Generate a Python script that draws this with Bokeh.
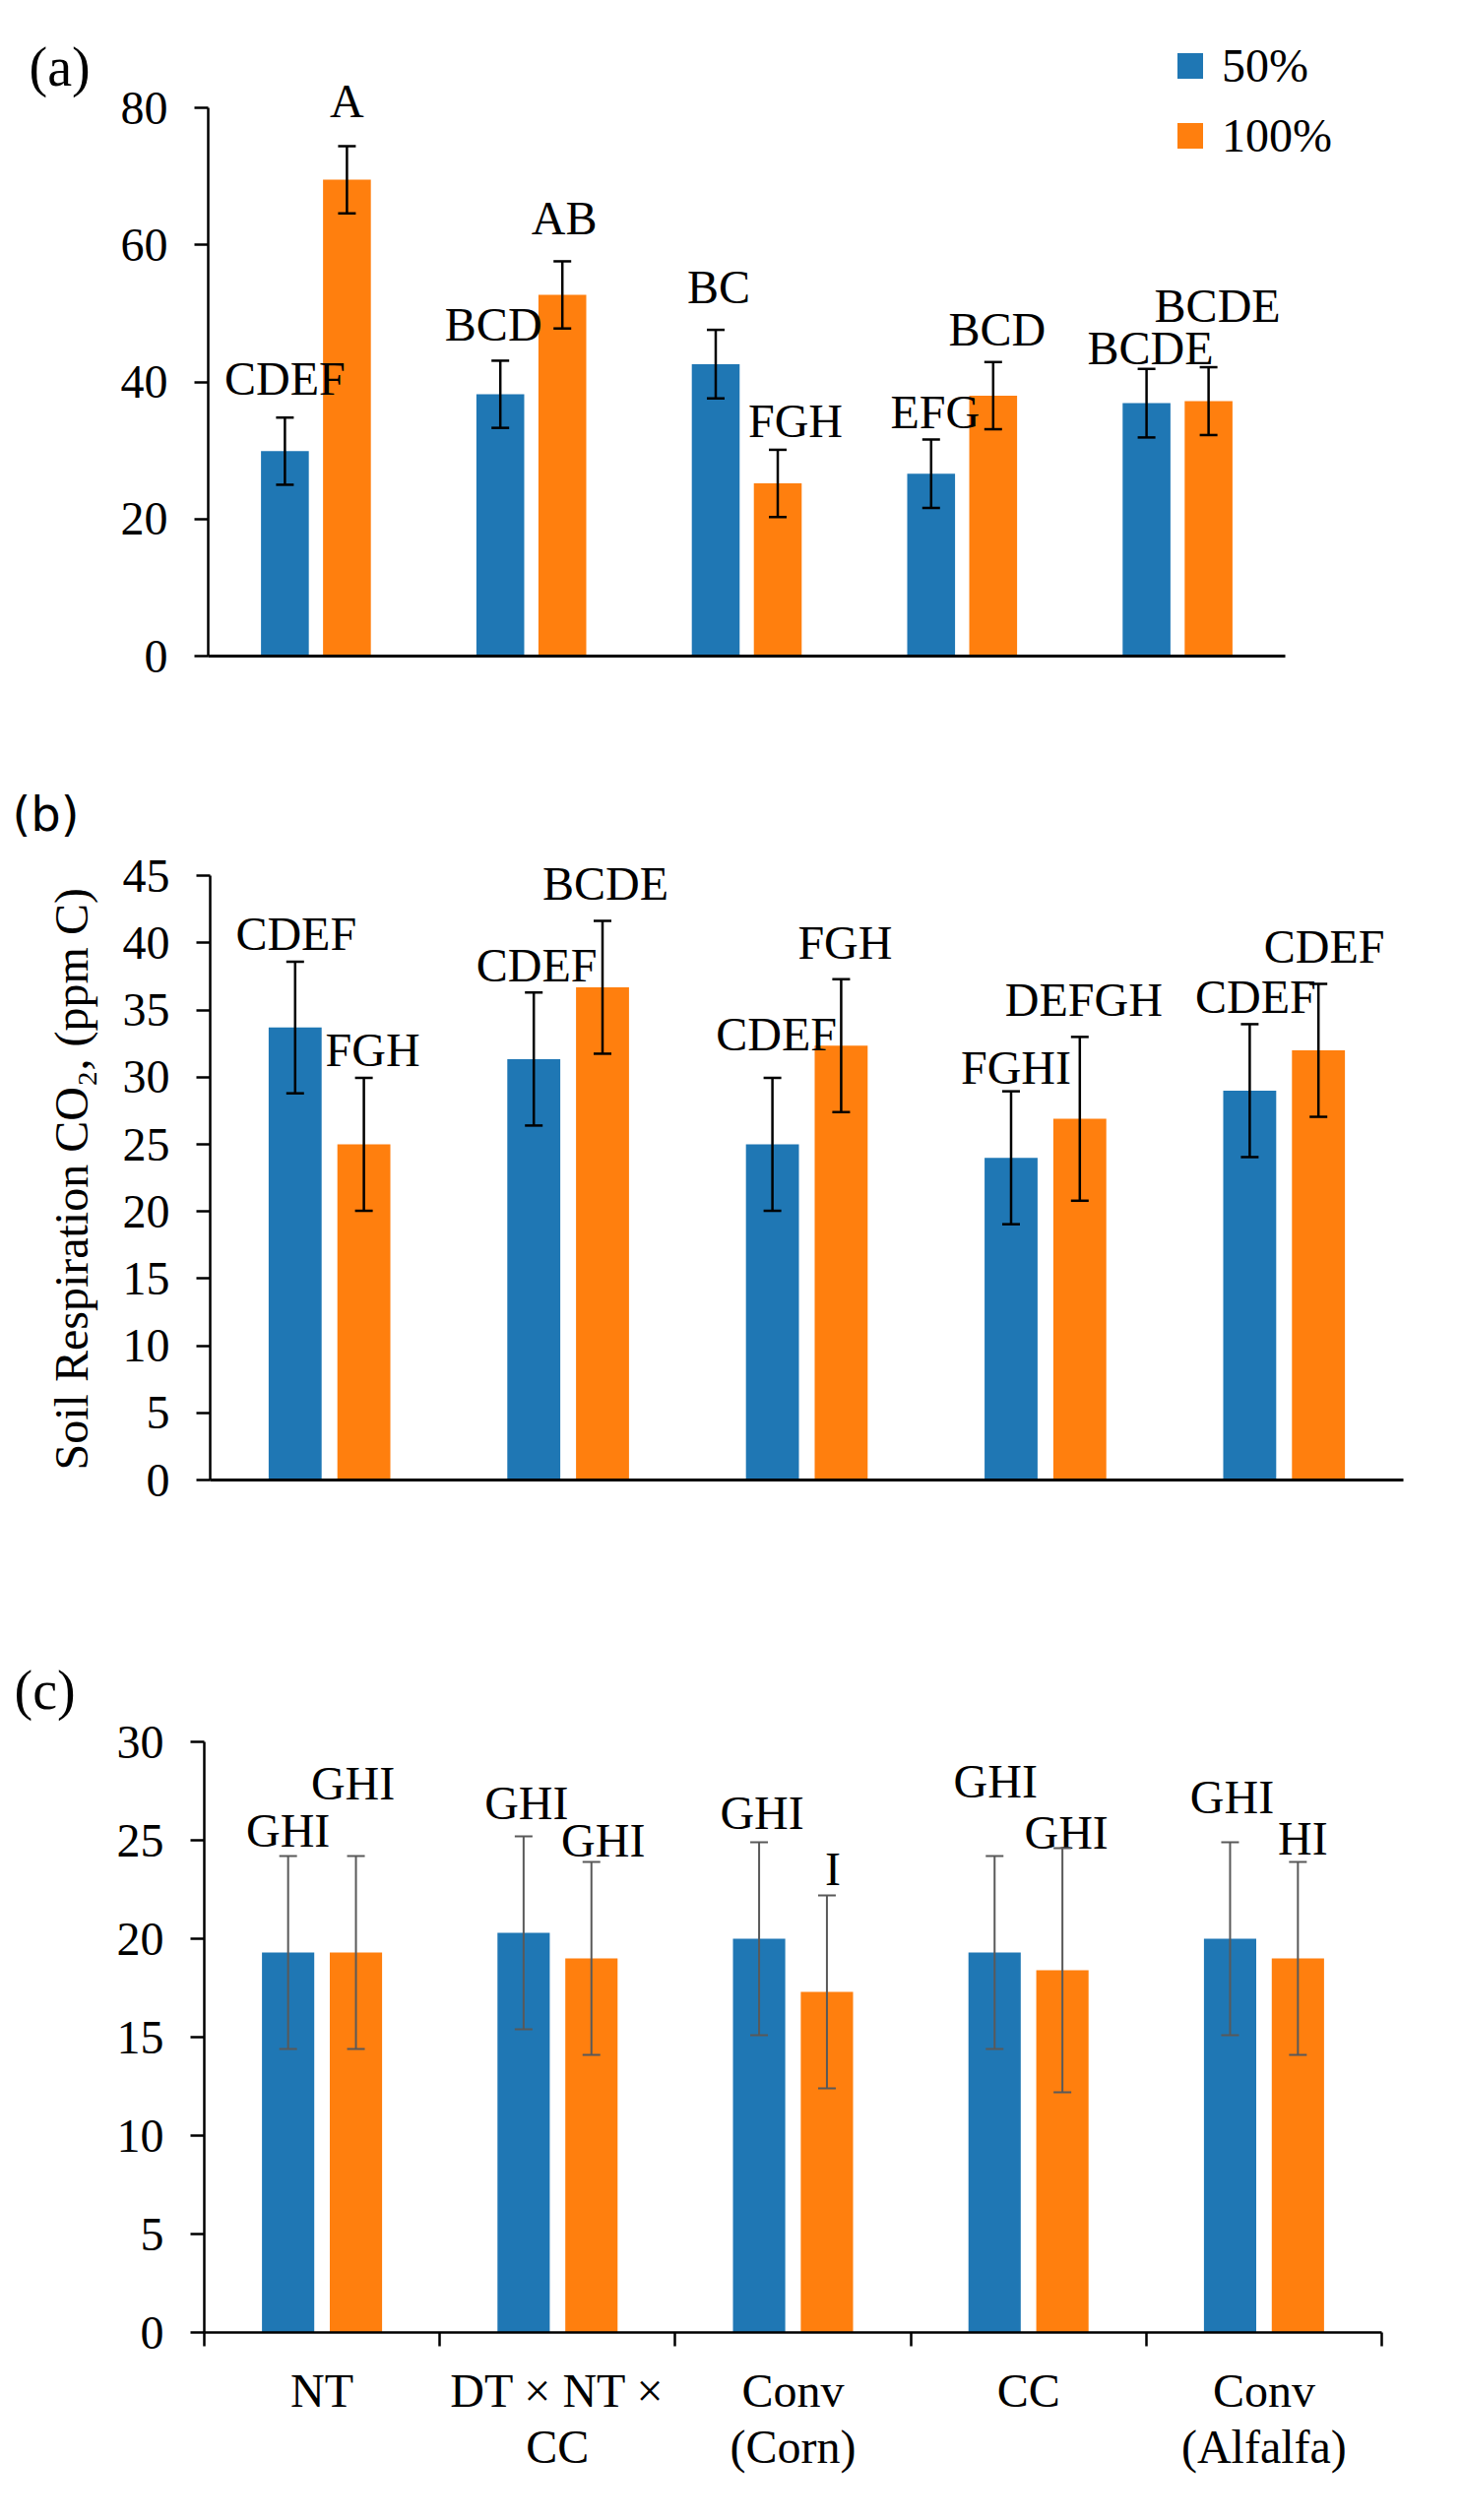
import math
from bokeh.plotting import figure
from bokeh.models import (Range1d, FixedTicker, ColumnDataSource, Whisker, TeeHead,
                          LabelSet, Label, Legend, LegendItem)
from bokeh.layouts import column, row
from bokeh.embed import file_html
from bokeh.resources import INLINE
from bokeh.core.properties import value

# ---------------- data ----------------
categories = ["NT", "DT × NT ×\nCC", "Conv\n(Corn)", "CC", "Conv\n(Alfalfa)"]
series = ["50%", "100%"]

# panel (a)
a_50 = [29.9, 38.2, 42.6, 26.6, 36.9]
a_50_err = [4.9, 4.9, 5.0, 5.0, 5.0]
a_100 = [69.5, 52.7, 25.2, 38.0, 37.2]
a_100_err = [4.9, 4.9, 4.9, 4.9, 4.95]
a_50_letters = ["CDEF", "BCD", "BC", "EFG", "BCDE"]
a_100_letters = ["A", "AB", "FGH", "BCD", "BCDE"]
a_50_letter_y = [38.1, 46.0, 51.5, 33.3, 42.6]
a_100_letter_y = [78.6, 61.5, 31.9, 45.3, 48.7]
a_50_letter_dx = [0, -7, 3, 4, 4]
a_100_letter_dx = [0, 2, 18, 4, 9]
a_ticks = [0, 20, 40, 60, 80]

# panel (b)
b_50 = [33.7, 31.35, 25.0, 24.0, 29.0]
b_50_err = [4.9, 4.95, 4.95, 4.95, 4.95]
b_100 = [25.0, 36.7, 32.35, 26.9, 32.0]
b_100_err = [4.95, 4.95, 4.95, 6.1, 4.95]
b_50_letters = ["CDEF", "CDEF", "CDEF", "FGHI", "CDEF"]
b_100_letters = ["FGH", "BCDE", "FGH", "DEFGH", "CDEF"]
b_50_letter_y = [39.5, 37.1, 32.0, 29.5, 34.8]
b_100_letter_y = [30.8, 43.2, 38.8, 34.6, 38.5]
b_50_letter_dx = [1, 3, 4, 5, 6]
b_100_letter_dx = [9, 3, 4, 4, 6]
b_ticks = [0, 5, 10, 15, 20, 25, 30, 35, 40, 45]

# panel (c)
c_50 = [19.3, 20.3, 20.0, 19.3, 20.0]
c_50_err = [4.9, 4.9, 4.9, 4.9, 4.9]
c_100 = [19.3, 19.0, 17.3, 18.4, 19.0]
c_100_err = [4.9, 4.9, 4.9, 6.2, 4.9]
c_50_letters = ["GHI", "GHI", "GHI", "GHI", "GHI"]
c_100_letters = ["GHI", "GHI", "I", "GHI", "HI"]
c_50_letter_y = [24.7, 26.1, 25.6, 27.2, 26.4]
c_100_letter_y = [27.1, 24.2, 22.75, 24.6, 24.3]
c_50_letter_dx = [0, 3, 3, 1, 2]
c_100_letter_dx = [-3, 12, 6, 4, 5]
c_ticks = [0, 5, 10, 15, 20, 25, 30]

ylabel = "Soil Respiration CO\u2082, (ppm C)"
panel_tags = ["(a)", "(b)", "(c)"]

# ---------------- style / layout ----------------
BLUE = "#1f77b4"
ORANGE = "#ff7f0e"
SERIF = "Liberation Serif"
FS = "48px"
NW = 108          # width of the left strip holding panel tags / y title
MW = 1376         # width of each chart figure
OFF = 0.144
BW = 0.222
NCAT = len(categories)
NAN = float("nan")


def side_strip(height, top_page):
    f = figure(width=NW, height=height, output_backend="svg", toolbar_location=None,
               x_range=Range1d(0, NW), y_range=Range1d(top_page + height, top_page),
               x_axis_type=None, y_axis_type=None, min_border=0)
    f.outline_line_color = None
    f.background_fill_color = "white"
    f.border_fill_color = "white"
    return f


def make_panel(height, left_border, bottom_border, px_x, px_y, ymax, yticks,
               v50, e50, v100, e100, l50, ly50, dx50, l100, ly100, dx100,
               err_color, err_w):
    x_end = (MW - left_border) / px_x
    y_end = (height - bottom_border) / px_y
    p = figure(width=MW, height=height, output_backend="svg", toolbar_location=None,
               x_range=Range1d(0, x_end), y_range=Range1d(0, y_end),
               min_border_left=left_border, min_border_right=0, min_border_top=0,
               min_border_bottom=bottom_border)
    p.outline_line_color = None
    p.xgrid.visible = False
    p.ygrid.visible = False
    p.background_fill_color = "white"
    p.border_fill_color = "white"

    x50 = [i + 0.5 - OFF for i in range(NCAT)]
    x100 = [i + 0.5 + OFF for i in range(NCAT)]
    s50 = ColumnDataSource(dict(x=x50, top=v50, up=[v + e for v, e in zip(v50, e50)],
                                lo=[v - e for v, e in zip(v50, e50)],
                                t=l50, ly=ly50, dx=dx50))
    s100 = ColumnDataSource(dict(x=x100, top=v100, up=[v + e for v, e in zip(v100, e100)],
                                 lo=[v - e for v, e in zip(v100, e100)],
                                 t=l100, ly=ly100, dx=dx100))
    p.vbar(x="x", top="top", width=BW, bottom=0, source=s50,
           fill_color=BLUE, line_color=None)
    p.vbar(x="x", top="top", width=BW, bottom=0, source=s100,
           fill_color=ORANGE, line_color=None)
    for s in (s50, s100):
        w = Whisker(base="x", upper="up", lower="lo", source=s, level="overlay",
                    line_color=err_color, line_width=err_w,
                    upper_head=TeeHead(size=18, line_color=err_color, line_width=err_w),
                    lower_head=TeeHead(size=18, line_color=err_color, line_width=err_w))
        p.add_layout(w)
        ls = LabelSet(x="x", y="ly", text="t", x_offset="dx", source=s,
                      text_font=value(SERIF), text_font_size=value(FS),
                      text_color="black", text_align="center",
                      text_baseline="alphabetic")
        p.add_layout(ls)

    ya = p.yaxis[0]
    ya.bounds = (0, ymax)
    ya.ticker = FixedTicker(ticks=yticks, minor_ticks=[])
    ya.axis_line_width = 2.5
    ya.axis_line_color = "black"
    ya.major_tick_out = 14
    ya.major_tick_in = 0
    ya.major_tick_line_width = 2.5
    ya.major_tick_line_color = "black"
    ya.minor_tick_out = 0
    ya.minor_tick_in = 0
    ya.major_label_text_font = SERIF
    ya.major_label_text_font_size = FS
    ya.major_label_text_color = "black"
    ya.major_label_standoff = 27

    xa = p.xaxis[0]
    xa.bounds = (0, NCAT)
    xa.axis_line_width = 3
    xa.axis_line_color = "black"
    return p


# ---------- panel (a) ----------
sa = side_strip(800, 0)
sa.add_layout(Label(x=29, y=81, text=panel_tags[0], text_font=SERIF,
                    text_font_size="56px", text_color="black",
                    text_baseline="alphabetic", text_align="left"))
pa = make_panel(800, 103, 134, 218.8, 6.9625, 80, a_ticks, a_50, a_50_err,
                a_100, a_100_err, a_50_letters, a_50_letter_y, a_50_letter_dx,
                a_100_letters, a_100_letter_y, a_100_letter_dx, "black", 2.5)
pa.xaxis[0].ticker = FixedTicker(ticks=[], minor_ticks=[])
pa.xaxis[0].major_label_text_font_size = "0px"
# legend proxies (NaN data: nothing drawn in the plot, only the legend swatch)
lg1 = pa.scatter(x=[NAN], y=[NAN], marker="square", size=26, fill_color=BLUE, line_color=None)
lg2 = pa.scatter(x=[NAN], y=[NAN], marker="square", size=26, fill_color=ORANGE, line_color=None)
legend = Legend(items=[LegendItem(label=series[0], renderers=[lg1]),
                       LegendItem(label=series[1], renderers=[lg2])],
                location=(965, 496), orientation="vertical",
                glyph_width=65, glyph_height=65, label_standoff=-10,
                spacing=6, padding=0, margin=0,
                border_line_color=None, background_fill_alpha=0,
                label_text_font=SERIF, label_text_font_size=FS,
                label_text_color="black")
pa.add_layout(legend)

# ---------- panel (b) ----------
sb = side_strip(860, 800)
sb.add_layout(Label(x=12, y=832, text=panel_tags[1], text_font="DejaVu Sans",
                    text_font_size="48px", text_color="black",
                    text_baseline="alphabetic", text_align="left"))
sb.add_layout(Label(x=72, y=1286, text=ylabel, angle=math.pi / 2, text_font=SERIF,
                    text_font_size=FS, text_color="black",
                    text_baseline="alphabetic", text_align="center"))
pb = make_panel(860, 105, 157, 242.4, 13.64, 45, b_ticks, b_50, b_50_err,
                b_100, b_100_err, b_50_letters, b_50_letter_y, b_50_letter_dx,
                b_100_letters, b_100_letter_y, b_100_letter_dx, "black", 2.5)
pb.xaxis[0].ticker = FixedTicker(ticks=[], minor_ticks=[])
pb.xaxis[0].major_label_text_font_size = "0px"

# ---------- panel (c) ----------
sc = side_strip(900, 1660)
sc.add_layout(Label(x=14, y=1732, text=panel_tags[2], text_font=SERIF,
                    text_font_size="56px", text_color="black",
                    text_baseline="alphabetic", text_align="left"))
pc = make_panel(900, 99, 191, 239.2, 20.0, 30, c_ticks, c_50, c_50_err,
                c_100, c_100_err, c_50_letters, c_50_letter_y, c_50_letter_dx,
                c_100_letters, c_100_letter_y, c_100_letter_dx, "#595959", 2)
centers = [i + 0.5 for i in range(NCAT)]
bounds = list(range(NCAT + 1))
xc = pc.xaxis[0]
xc.ticker = FixedTicker(ticks=centers, minor_ticks=bounds)
xc.major_label_overrides = {c: lab for c, lab in zip(centers, categories)}
xc.major_tick_out = 0
xc.major_tick_in = 0
xc.major_tick_line_color = None
xc.minor_tick_out = 14
xc.minor_tick_in = 0
xc.minor_tick_line_width = 2.5
xc.minor_tick_line_color = "black"
xc.axis_line_width = 2.5
xc.major_label_text_font = SERIF
xc.major_label_text_font_size = FS
xc.major_label_text_color = "black"
xc.major_label_text_line_height = 1.09
xc.major_label_standoff = 18

layout = column(row(sa, pa, spacing=0), row(sb, pb, spacing=0), row(sc, pc, spacing=0),
                spacing=0)
open("out.html", "w").write(file_html(layout, INLINE))
